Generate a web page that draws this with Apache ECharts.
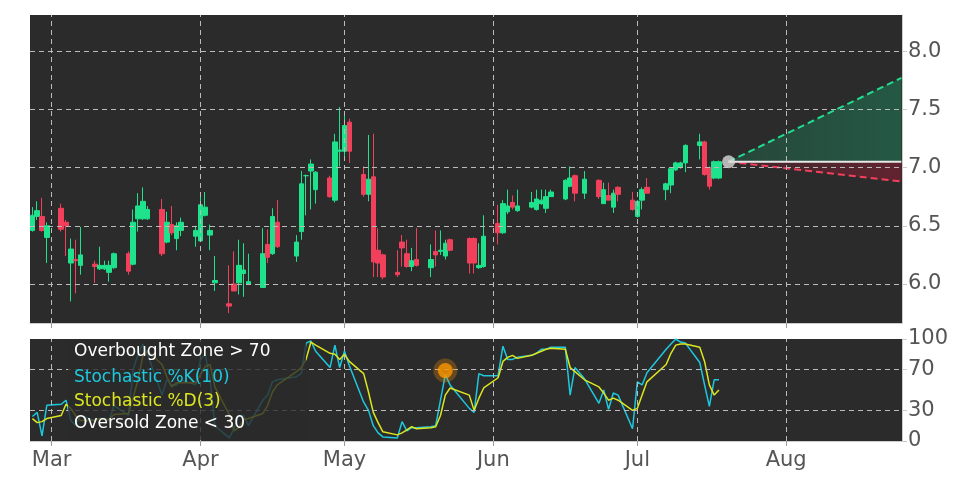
<!DOCTYPE html>
<html><head><meta charset="utf-8">
<script src="https://cdn.jsdelivr.net/npm/echarts@6/dist/echarts.min.js"></script>
<style>html,body{margin:0;padding:0;background:#fff}#c{width:972px;height:486px}</style>
</head><body><div id="c"></div>
<script>
const dates=['2025-02-25','2025-02-26','2025-02-27','2025-02-28','2025-03-03','2025-03-04','2025-03-05','2025-03-06','2025-03-07','2025-03-10','2025-03-11','2025-03-12','2025-03-13','2025-03-14','2025-03-17','2025-03-18','2025-03-19','2025-03-20','2025-03-21','2025-03-24','2025-03-25','2025-03-26','2025-03-27','2025-03-28','2025-03-31','2025-04-01','2025-04-02','2025-04-03','2025-04-04','2025-04-07','2025-04-08','2025-04-09','2025-04-10','2025-04-11','2025-04-14','2025-04-15','2025-04-16','2025-04-17','2025-04-21','2025-04-22','2025-04-23','2025-04-24','2025-04-25','2025-04-28','2025-04-29','2025-04-30','2025-05-01','2025-05-02','2025-05-05','2025-05-06','2025-05-07','2025-05-08','2025-05-09','2025-05-12','2025-05-13','2025-05-14','2025-05-15','2025-05-16','2025-05-19','2025-05-20','2025-05-21','2025-05-22','2025-05-23','2025-05-27','2025-05-28','2025-05-29','2025-05-30','2025-06-02','2025-06-03','2025-06-04','2025-06-05','2025-06-06','2025-06-09','2025-06-10','2025-06-11','2025-06-12','2025-06-13','2025-06-16','2025-06-17','2025-06-18','2025-06-20','2025-06-23','2025-06-24','2025-06-25','2025-06-26','2025-06-27','2025-06-30','2025-07-01','2025-07-02','2025-07-03','2025-07-07','2025-07-08','2025-07-09','2025-07-10','2025-07-11','2025-07-14','2025-07-15','2025-07-16','2025-07-17','2025-07-18'];
const opens=[6.46,6.58,6.58,6.40,6.65,6.53,6.18,6.21,6.16,6.17,6.13,6.13,6.10,6.14,6.26,6.17,6.56,6.56,6.56,6.64,6.36,6.51,6.39,6.46,6.41,6.37,6.59,6.42,6.01,5.83,6.00,6.01,6.09,6.00,5.97,6.34,6.26,6.53,6.24,6.45,6.93,6.97,6.81,6.91,6.72,7.14,7.14,7.39,6.94,6.77,6.92,6.29,6.25,6.10,6.36,6.26,6.15,6.21,6.14,6.28,6.28,6.24,6.38,6.39,6.39,6.14,6.15,6.52,6.44,6.62,6.70,6.63,6.66,6.64,6.69,6.65,6.75,6.73,6.84,6.93,6.78,6.89,6.69,6.76,6.66,6.83,6.72,6.58,6.72,6.83,6.81,6.85,6.98,7.00,7.04,7.19,7.22,7.00,6.91,6.91];
const closes=[6.59,6.63,6.46,6.50,6.47,6.50,6.30,6.20,6.25,6.15,6.16,6.16,6.16,6.26,6.11,6.53,6.67,6.71,6.64,6.26,6.53,6.44,6.50,6.53,6.46,6.68,6.66,6.46,6.03,5.81,5.94,6.16,6.12,6.02,6.26,6.23,6.58,6.32,6.36,6.86,6.93,7.03,6.96,6.75,7.22,7.15,7.36,7.14,6.77,6.90,6.19,6.18,6.06,6.08,6.31,6.15,6.20,6.16,6.21,6.25,6.29,6.35,6.29,6.18,6.18,6.16,6.41,6.44,6.69,6.67,6.66,6.67,6.70,6.73,6.72,6.75,6.79,6.89,6.91,6.78,6.90,6.75,6.81,6.72,6.78,6.77,6.64,6.71,6.81,6.78,6.86,6.99,7.04,7.04,7.19,7.22,6.94,6.84,7.05,7.05];
const lows=[6.45,6.55,6.45,6.18,6.45,6.24,5.85,5.92,6.08,6.01,6.12,6.12,6.02,6.13,6.08,6.16,6.45,6.55,6.55,6.24,6.35,6.42,6.29,6.41,6.32,6.36,6.58,6.29,5.94,5.75,5.94,5.91,5.89,6.00,5.97,6.18,6.25,6.31,6.19,6.38,6.59,6.64,6.69,6.74,6.70,7.01,7.10,7.04,6.75,6.71,6.06,6.06,6.04,6.06,6.15,6.14,6.11,6.15,6.06,6.15,6.25,6.21,6.28,6.09,6.09,6.13,6.14,6.34,6.43,6.60,6.64,6.62,6.65,6.63,6.68,6.61,6.75,6.72,6.83,6.71,6.73,6.73,6.69,6.72,6.61,6.71,6.63,6.57,6.64,6.78,6.72,6.78,6.97,6.99,6.96,7.07,6.93,6.81,6.90,6.90];
const highs=[6.66,6.71,6.74,6.53,6.69,6.55,6.39,6.38,6.49,6.20,6.32,6.20,6.20,6.27,6.28,6.64,6.78,6.83,6.67,6.73,6.62,6.67,6.53,6.57,6.50,6.75,6.79,6.51,6.24,6.16,6.28,6.38,6.35,6.26,6.48,6.47,6.65,6.72,6.42,6.97,6.94,7.07,6.97,6.93,7.29,7.52,7.47,7.42,7.01,7.28,7.29,6.48,6.26,6.29,6.42,6.38,6.31,6.48,6.34,6.46,6.46,6.38,6.39,6.40,6.40,6.35,6.59,6.68,6.72,6.81,6.76,6.81,6.79,6.81,6.81,6.81,6.81,6.90,7.01,6.94,6.97,6.90,6.87,6.87,6.81,6.84,6.79,6.72,6.83,6.91,6.87,6.99,7.05,7.05,7.20,7.29,7.23,7.01,7.06,7.06];
const stochK=[24,28,5,35,36,40,20,15,25,20,22,22,20,35,25,70,85,95,85,45,60,55,55,60,55,80,85,60,15,3,12,25,25,15,40,45,58,60,63,66,96,98,88,72,94,72,88,74,38,30,15,8,4,3,19,10,13,13,14,15,40,65,55,32,28,66,64,64,93,80,80,82,84,86,90,90,92,92,45,72,61,37,50,31,47,45,12,58,55,67,90,95,100,97,96,77,55,34,60,60];
const stochD=[22,18,19,22,25,36,32,25,20,20,22,21,21,26,27,43,60,83,88,75,63,53,57,57,57,65,73,75,53,26,10,13,21,22,27,35,48,55,68,72,80,97,94,86,85,80,85,78,66,48,28,18,9,6,8,11,14,12,13,14,25,45,52,45,30,42,52,62,78,82,84,81,84,86,88,90,91,90,72,68,60,53,47,40,42,40,30,32,45,58,75,86,94,95,95,92,78,55,45,50];
const signalDate='2025-05-22', signalValue=69;
const forecastDates=['2025-07-20','2025-08-25'];
const forecastUp=[7.05,7.77], forecastMid=[7.05,7.05], forecastDown=[7.05,6.88];
const monthStarts=['2025-03-01','2025-04-01','2025-05-01','2025-06-01','2025-07-01','2025-08-01'];
const monthNames=['Mar','Apr','May','Jun','Jul','Aug'];
const priceTicks=[6.0,6.5,7.0,7.5,8.0];
const stochTicks=[0,30,70,100];

const ts=d=>new Date(d+'T00:00:00Z').getTime();
const xMin=ts('2025-02-24')+12*3600e3, xMax=ts('2025-08-25')+3*3600e3;
const monthTs=monthStarts.map(ts);
const grey='#555';
const gridLine={lineStyle:{color:'#bbb',type:[5,4],width:1},symbol:'none',silent:true,label:{show:false}};
function xAx(i,showLabel){return {type:'value',gridIndex:i,min:xMin,max:xMax,
  axisLine:{show:true,lineStyle:{color:'#ccc'}},splitLine:{show:false},
  axisTick:{show:true,customValues:monthTs,length:5,lineStyle:{color:'#999'}},
  axisLabel:{show:showLabel,customValues:monthTs,fontSize:21,color:grey,fontFamily:'DejaVu Sans',margin:9,
    formatter:v=>monthNames[monthTs.indexOf(v)]||''}};}
const chart=echarts.init(document.getElementById('c'));
chart.setOption({
  backgroundColor:'#fff',animation:false,
  grid:[{left:30,right:70,top:15,height:308,show:true,backgroundColor:'#2b2b2b',borderWidth:0},
        {left:30,right:70,top:339,height:102,show:true,backgroundColor:'#2b2b2b',borderWidth:0}],
  xAxis:[xAx(0,false),xAx(1,true)],
  yAxis:[{type:'value',gridIndex:0,position:'right',min:5.665,max:8.31,splitLine:{show:false},
    axisLine:{show:true,lineStyle:{color:'#ccc'}},axisTick:{show:true,customValues:priceTicks,length:5},
    axisLabel:{customValues:priceTicks,formatter:v=>v.toFixed(1),fontSize:21,color:grey,fontFamily:'DejaVu Sans',margin:6}},
    {type:'value',gridIndex:1,position:'right',min:0,max:100,splitLine:{show:false},
    axisLine:{show:true,lineStyle:{color:'#ccc'}},axisTick:{show:true,customValues:stochTicks,length:5},
    axisLabel:{customValues:stochTicks,fontSize:21,color:grey,fontFamily:'DejaVu Sans',margin:6}}],
  series:[
    {type:'line',xAxisIndex:0,yAxisIndex:0,data:[],z:1,markLine:Object.assign({data:priceTicks.map(v=>({yAxis:v})).concat(monthTs.map(t=>({xAxis:t})))},gridLine)},
    {type:'line',xAxisIndex:1,yAxisIndex:1,data:[],z:1,markLine:Object.assign({data:[{yAxis:30},{yAxis:70}].concat(monthTs.map(t=>({xAxis:t})))},gridLine)},
    {type:'candlestick',xAxisIndex:0,yAxisIndex:0,z:3,barWidth:5,
     data:dates.map((d,i)=>[ts(d),opens[i],closes[i],lows[i],highs[i]]),
     itemStyle:{color:'#1fe28c',color0:'#f2405c',borderColor:'#1fe28c',borderColor0:'#f2405c',borderWidth:1}},
    {type:'line',xAxisIndex:0,yAxisIndex:0,z:2,symbol:'none',data:forecastDates.map((d,i)=>[ts(d),forecastUp[i]]),
     lineStyle:{color:'#22dd90',type:[7,4],width:2},
     areaStyle:{origin:7.05,color:{type:'linear',x:0,y:0,x2:1,y2:0,colorStops:[{offset:0,color:'rgba(30,130,90,0.45)'},{offset:1,color:'rgba(30,130,90,0.75)'}]}}},
    {type:'line',xAxisIndex:0,yAxisIndex:0,z:2,symbol:'none',data:forecastDates.map((d,i)=>[ts(d),forecastDown[i]]),
     lineStyle:{color:'#f0405e',type:[7,4],width:2},
     areaStyle:{origin:7.05,color:{type:'linear',x:0,y:0,x2:1,y2:0,colorStops:[{offset:0,color:'rgba(120,30,50,0.4)'},{offset:1,color:'rgba(140,30,50,0.8)'}]}}},
    {type:'line',xAxisIndex:0,yAxisIndex:0,z:2,symbol:'none',data:forecastDates.map((d,i)=>[ts(d),forecastMid[i]]),
     lineStyle:{color:'#e8e8e8',width:2}},
    {type:'scatter',xAxisIndex:0,yAxisIndex:0,z:5,symbolSize:13,data:[[ts(forecastDates[0]),forecastMid[0]]],
     itemStyle:{color:'#d8d8d8'}},
    {type:'line',xAxisIndex:1,yAxisIndex:1,z:3,symbol:'none',data:dates.map((d,i)=>[ts(d),stochK[i]]),lineStyle:{color:'#1ec8de',width:1.5}},
    {type:'line',xAxisIndex:1,yAxisIndex:1,z:3,symbol:'none',data:dates.map((d,i)=>[ts(d),stochD[i]]),lineStyle:{color:'#dce61e',width:1.5}},
    {type:'scatter',xAxisIndex:1,yAxisIndex:1,z:5,symbolSize:15,data:[[ts(signalDate),signalValue]],
     itemStyle:{color:'#ff9800',borderColor:'rgba(255,152,0,0.35)',borderWidth:9}}
  ],
  graphic:[
    {type:'rect',left:68,top:340,z:10,shape:{width:238,height:100},style:{fill:'rgba(43,43,43,0.8)'}},
    {type:'text',left:74,top:343,z:11,style:{text:'Overbought Zone > 70',fill:'#fff',fontSize:17,fontFamily:'DejaVu Sans'}},
    {type:'text',left:74,top:369,z:11,style:{text:'Stochastic %K(10)',fill:'#1ec8de',fontSize:17,fontFamily:'DejaVu Sans'}},
    {type:'text',left:74,top:393,z:11,style:{text:'Stochastic %D(3)',fill:'#dce61e',fontSize:17,fontFamily:'DejaVu Sans'}},
    {type:'text',left:74,top:415,z:11,style:{text:'Oversold Zone < 30',fill:'#fff',fontSize:17,fontFamily:'DejaVu Sans'}}
  ]
});
</script></body></html>
